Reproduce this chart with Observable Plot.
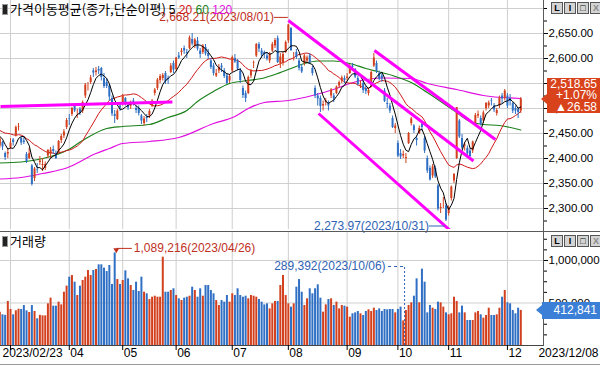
<!DOCTYPE html>
<html><head><meta charset="utf-8">
<script src="https://cdn.jsdelivr.net/npm/d3@7"></script>
<script src="https://cdn.jsdelivr.net/npm/@observablehq/plot@0.6"></script>
<style>
body{margin:0;background:#fff;}
#wrap{position:relative;width:600px;height:366px;overflow:hidden;background:#fff;font-family:"Liberation Sans","Noto Sans CJK KR",sans-serif;font-size:12px;}
#wrap svg{position:absolute;left:0;overflow:visible;}
.ln{position:absolute;background:#5a5a5a;}
.title{position:absolute;left:2px;font-size:13px;line-height:19px;white-space:nowrap;color:#000;font-family:"Noto Sans CJK KR","Liberation Sans",sans-serif;}
.icon{display:inline-block;width:4px;height:9px;background:#222;border:1px solid #999;margin-right:2px;vertical-align:-1px;}
.btns{position:absolute;left:551px;display:flex;gap:1px;}
.btn{width:10px;height:10px;border:1px solid #555;background:#d4d4d4;font:bold 9px/10px "Liberation Sans",sans-serif;text-align:center;color:#000;}
.box{position:absolute;color:#fff;text-align:right;font-size:12px;padding-right:3px;box-sizing:border-box;}
.box::before{content:"";position:absolute;left:-6px;border-top:5px solid transparent;border-bottom:5px solid transparent;}
</style></head>
<body><div id="wrap"></div>
<script>
// ---- data ----
const dates = ["02/23","02/24","02/27","02/28",
"03/02","03/03","03/06","03/07","03/08","03/09","03/10","03/13","03/14","03/15","03/16","03/17","03/20","03/21","03/22","03/23","03/24","03/27","03/28","03/29","03/30","03/31",
"04/03","04/04","04/05","04/06","04/07","04/10","04/11","04/12","04/13","04/14","04/17","04/18","04/19","04/20","04/21","04/24","04/25","04/26","04/27","04/28",
"05/02","05/03","05/04","05/08","05/09","05/10","05/11","05/12","05/15","05/16","05/17","05/18","05/19","05/22","05/23","05/24","05/25","05/26","05/30","05/31",
"06/01","06/02","06/05","06/07","06/08","06/09","06/12","06/13","06/14","06/15","06/16","06/19","06/20","06/21","06/22","06/23","06/26","06/27","06/28","06/29","06/30",
"07/03","07/04","07/05","07/06","07/07","07/10","07/11","07/12","07/13","07/14","07/17","07/18","07/19","07/20","07/21","07/24","07/25","07/26","07/27","07/28","07/31",
"08/01","08/02","08/03","08/04","08/07","08/08","08/09","08/10","08/11","08/14","08/16","08/17","08/18","08/21","08/22","08/23","08/24","08/25","08/28","08/29","08/30","08/31",
"09/01","09/04","09/05","09/06","09/07","09/08","09/11","09/12","09/13","09/14","09/15","09/18","09/19","09/20","09/21","09/22","09/25","09/26","09/27",
"10/04","10/05","10/06","10/10","10/11","10/12","10/13","10/16","10/17","10/18","10/19","10/20","10/23","10/24","10/25","10/26","10/27","10/30","10/31",
"11/01","11/02","11/03","11/06","11/07","11/08","11/09","11/10","11/13","11/14","11/15","11/16","11/17","11/20","11/21","11/22","11/23","11/24","11/27","11/28","11/29","11/30",
"12/01","12/04","12/05","12/06","12/07","12/08"];
const open = [2425,2432,2410,2409,
2422,2437,2445,2462,2440,2435,2408,2400,2385,2360,2378,2392,2386,2380,2405,2408,2418,2410,2412,2436,2445,2462,
2480,2488,2505,2490,2498,2494,2525,2548,2552,2575,2572,2578,2580,2560,2552,2545,2520,2488,2478,2505,
2510,2520,2505,2505,2515,2500,2500,2485,2470,2482,2485,2505,2530,2540,2556,2560,2570,2560,2572,2590,
2578,2605,2612,2620,2612,2620,2638,2625,2635,2615,2612,2622,2610,2595,2585,2565,2575,2585,2575,2565,2555,
2575,2600,2595,2575,2540,2530,2530,2565,2590,2605,2628,2615,2612,2605,2595,2615,2625,2640,2590,2590,2612,
2635,2660,2605,2612,2595,2582,2590,2595,2605,2580,2540,2525,2520,2505,2512,2510,2525,2525,2530,2545,2555,2560,
2560,2570,2585,2578,2560,2545,2550,2540,2530,2545,2585,2590,2570,2565,2535,2510,2505,2480,2460,
2430,2410,2405,2400,2430,2470,2465,2440,2450,2468,2440,2400,2380,2365,2380,2345,2300,2310,2305,
2290,2320,2355,2400,2475,2440,2425,2420,2415,2415,2470,2485,2480,2475,2500,2505,2515,2505,2490,2505,2525,2520,
2525,2520,2510,2500,2498,2495];
const high = [2442,2434,2413,2420,
2440,2440,2465,2470,2443,2443,2412,2420,2388,2382,2390,2404,2400,2393,2418,2422,2425,2415,2436,2448,2458,2480,
2488,2502,2510,2498,2502,2515,2550,2552,2566,2580,2582,2584,2582,2570,2560,2548,2525,2496,2498,2508,
2528,2522,2512,2515,2520,2505,2505,2488,2484,2488,2498,2518,2540,2560,2568,2570,2574,2565,2590,2595,
2602,2612,2620,2625,2618,2645,2650,2640,2642,2620,2628,2628,2618,2600,2590,2578,2588,2590,2580,2570,2568,
2605,2608,2598,2580,2545,2535,2565,2578,2595,2630,2632,2620,2615,2612,2612,2632,2640,2645,2610,2612,2635,
2668.21,2662,2612,2618,2600,2588,2608,2605,2610,2585,2545,2530,2525,2515,2520,2515,2540,2530,2545,2555,2565,2565,
2570,2588,2590,2580,2565,2555,2555,2545,2540,2575,2610,2595,2575,2570,2540,2520,2510,2485,2470,
2435,2418,2415,2410,2452,2482,2468,2445,2465,2472,2445,2405,2385,2388,2385,2348,2310,2322,2310,
2305,2345,2370,2502,2478,2448,2432,2425,2420,2435,2490,2495,2485,2495,2512,2515,2520,2510,2500,2525,2530,2538,
2530,2528,2512,2505,2502,2522];
const low = [2420,2416,2396,2400,
2418,2425,2443,2455,2426,2428,2390,2398,2345,2354,2370,2386,2374,2376,2400,2400,2408,2398,2410,2430,2440,2458,
2466,2484,2492,2480,2486,2490,2520,2535,2548,2562,2565,2568,2555,2540,2540,2515,2484,2470,2476,2494,
2505,2505,2496,2498,2505,2490,2485,2468,2465,2472,2480,2502,2525,2536,2550,2555,2548,2548,2570,2570,
2575,2598,2605,2608,2600,2618,2625,2620,2615,2600,2608,2605,2598,2578,2565,2562,2570,2572,2560,2548,2550,
2572,2590,2575,2550,2520,2512,2528,2560,2580,2602,2612,2600,2600,2595,2590,2612,2620,2590,2580,2585,2610,
2630,2614,2595,2598,2575,2570,2585,2590,2588,2565,2520,2505,2492,2495,2505,2495,2520,2512,2528,2540,2550,2550,
2555,2568,2575,2560,2545,2540,2530,2528,2525,2542,2582,2570,2555,2552,2512,2500,2490,2460,2450,
2402,2398,2400,2390,2428,2465,2450,2425,2448,2455,2410,2370,2355,2360,2360,2295,2290,2300,2273.97,
2285,2315,2350,2398,2440,2418,2415,2405,2400,2410,2468,2480,2465,2470,2495,2500,2505,2492,2485,2500,2510,2515,
2500,2505,2490,2488,2480,2490];
const close = [2439,2423,2402,2412,
2431,2432,2462,2463,2431,2432,2394,2410,2348,2379,2377,2395,2388,2388,2416,2417,2414,2400,2434,2444,2453,2476,
2479,2500,2495,2490,2490,2512,2547,2548,2561,2571,2575,2575,2562,2544,2544,2523,2489,2484,2495,2501,
2524,2510,2501,2509,2510,2496,2490,2475,2479,2480,2494,2515,2537,2557,2564,2566,2554,2558,2585,2577,
2601,2601,2615,2615,2610,2641,2629,2637,2619,2608,2625,2609,2604,2582,2570,2570,2582,2581,2564,2550,2564,
2602,2593,2579,2556,2526,2520,2562,2574,2591,2628,2619,2607,2608,2599,2609,2628,2636,2592,2603,2608,2632,
2667,2616,2605,2602,2580,2573,2605,2601,2591,2570,2525,2519,2504,2508,2515,2505,2537,2519,2543,2552,2561,2556,
2563,2584,2582,2563,2548,2547,2536,2534,2536,2572,2601,2574,2559,2559,2514,2508,2495,2462,2465,
2405,2403,2408,2402,2450,2479,2456,2436,2460,2462,2415,2375,2357,2383,2363,2299,2302,2310,2277,
2301,2343,2368,2502,2443,2421,2427,2409,2404,2433,2486,2488,2469,2491,2510,2511,2514,2497,2496,2521,2519,2535,
2505,2514,2495,2495,2492.07,2518.65];
const volume = [392000,361000,355000,518000,
424000,361000,408000,427000,424000,470000,408000,388000,470000,400000,314000,355000,349000,349000,490000,557000,463000,463000,510000,478000,627000,698000,
804000,823000,745000,588000,698000,765000,804000,882000,823000,882000,894000,949000,949000,910000,870000,941000,718000,1089216,776000,718000,
765000,878000,784000,706000,647000,745000,635000,804000,627000,608000,541000,568000,580000,568000,568000,1039000,627000,627000,647000,667000,
588000,549000,529000,557000,568000,580000,686000,647000,568000,667000,580000,706000,706000,647000,608000,529000,471000,529000,510000,588000,510000,
608000,588000,667000,588000,568000,580000,549000,588000,580000,568000,541000,510000,478000,490000,431000,490000,518000,518000,706000,824000,588000,
490000,451000,490000,686000,776000,627000,471000,549000,667000,608000,667000,714000,557000,392000,478000,541000,549000,471000,510000,431000,471000,463000,
451000,333000,373000,384000,400000,373000,353000,400000,420000,400000,439000,412000,431000,400000,424000,420000,424000,424000,384000,
424000,451000,289392,412000,471000,502000,580000,784000,502000,898000,745000,384000,471000,439000,424000,510000,502000,451000,384000,
361000,373000,568000,518000,384000,463000,384000,294000,294000,294000,384000,400000,361000,322000,353000,439000,353000,353000,361000,439000,568000,647000,
502000,490000,412000,373000,439000,412841];
// closes of the 19 sessions before the first visible day (feed the 5/20-day averages)
const preClose = [2484,2450,2425,2449,2468,2480,2438,2451,2483,2482,2470,2453,2465,2428,2476,2451,2455,2459,2418];
// 60- and 120-day averages
const ma60Idx = [0,8,19,25,31,40,46,56,63,70,74,80,86,93,98,103,109,114,119,125,131,137,147,154,160,171,176,181,187,195];
const ma60Val = [2391,2393,2404,2416,2436,2460,2464,2468,2482,2496,2514,2534,2550,2556,2560,2568,2580,2590,2595,2595,2590,2580,2566,2552,2532,2492,2474,2468,2466,2457];
const ma120Idx = [0,8,16,25,36,41,46,56,67,80,88,93,99,108,117,126,131,144,154,160,171,181,195];
const ma120Val = [2359,2362,2370,2381,2410,2420,2430,2434,2442,2470,2484,2500,2512,2516,2526,2540,2550,2561,2560,2550,2538,2526,2520];
// drawn trend lines (day index / price)
const trendI1 = [0.26, 108.0, 140.2, 119.3];
const trendP1 = [2504, 2676, 2616, 2490];
const trendI2 = [64.6, 177.3, 185.5, 169.0];
const trendP2 = [2513, 2395, 2438, 2254];
// labels
const priceTicks = [2300,2350,2400,2450,2500,2550,2600,2650,2700];
const priceLabelTicks = [2300,2350,2400,2450,2500,2550,2600,2650];
const volTicks = [500000, 1000000];
const monthTickLabels = ["","04","05","06","07","08","09","10","11","12"];
const firstDateLabel = "2023/02/23", lastDateLabel = "2023/12/08";
const hiIdx = 108, hiVal = 2668.21, hiLabel = "2,668.21(2023/08/01)";
const loIdx = 167, loVal = 2273.97, loLabel = "2,273.97(2023/10/31)";
const vMaxIdx = 43, vMaxVal = 1089216, vMaxLabel = "1,089,216(2023/04/26)";
const vMarkIdx = 151, vMarkVal = 289392, vMarkLabel = "289,392(2023/10/06)";
const lastChange = 26.58, lastPct = 1.07;

// ---- drawing ----
const UP = "#d2401e", DOWN = "#2f6fc4", GRID = "#cfcfcf";
const MA5C = "#000000", MA20C = "#d01818", MA60C = "#1a801a", MA120C = "#e010e0", TREND = "#ff00ff";
const HIC = "#c0301e", LOC = "#2f62b4";
const XD = [0.26, 203.5];
const VMAX = 1341000, VH = 114;
const rows = close.map((c, i) => ({i, o: open[i], h: high[i], l: low[i], c, v: volume[i], col: c >= open[i] ? UP : DOWN}));
const closeAll = preClose.map((c, k) => ({i: k - preClose.length, c})).concat(rows.map(r => ({i: r.i, c: r.c})));
const monthIdx = rows.filter((r, i) => i > 0 && dates[i].slice(0, 2) !== dates[i - 1].slice(0, 2)).map(r => r.i);
const ma60 = ma60Idx.map((i, k) => ({i, v: ma60Val[k]}));
const ma120 = ma120Idx.map((i, k) => ({i, v: ma120Val[k]}));
const trends = trendI1.map((d, k) => ({x1: d, y1: trendP1[k], x2: trendI2[k], y2: trendP2[k]}));
const fmt2 = d3.format(",.2f"), fmt0 = d3.format(",");
const FONT = '"Liberation Sans","Noto Sans CJK KR",sans-serif';
const style = {fontFamily: FONT, fontSize: "12px", color: "#000", background: "transparent", overflow: "visible"};
// label row of the 2023/10/06 marker sits 54px above its bar top
const vMarkLabelY = vMarkVal + 54.4 * VMAX / VH;

const pricePlot = Plot.plot({
  width: 600, height: 230, marginLeft: 0, marginRight: 57, marginTop: 0, marginBottom: 1,
  x: {domain: XD, axis: null, label: null},
  y: {domain: [2258, 2716], axis: null, label: null},
  color: {type: "identity"},
  style,
  marks: [
    Plot.ruleY(priceTicks, {stroke: GRID}),
    Plot.ruleX(monthIdx, {stroke: GRID}),
    Plot.line(ma120, {x: "i", y: "v", stroke: MA120C, strokeWidth: 1.2, curve: "monotone-x", clip: true}),
    Plot.line(ma60, {x: "i", y: "v", stroke: MA60C, strokeWidth: 1.2, curve: "monotone-x", clip: true}),
    Plot.line(closeAll, Plot.windowY({k: 20, anchor: "end", strict: true}, {x: "i", y: "c", stroke: MA20C, strokeWidth: 1, clip: true})),
    Plot.ruleX(rows, {x: "i", y1: "l", y2: "h", stroke: "col", strokeWidth: 1, clip: true}),
    Plot.ruleX(rows, {x: "i", y1: "o", y2: "c", stroke: "col", strokeWidth: 2, clip: true}),
    Plot.line(closeAll, Plot.windowY({k: 5, anchor: "end", strict: true}, {x: "i", y: "c", stroke: MA5C, strokeWidth: 1, clip: true})),
    Plot.link(trends, {x1: "x1", y1: "y1", x2: "x2", y2: "y2", stroke: TREND, strokeWidth: 3, clip: true}),
    Plot.ruleY([hiVal], {x1: hiIdx - 5.2, x2: hiIdx, dy: -7, stroke: HIC}),
    Plot.text([hiLabel], {x: hiIdx - 5.4, y: hiVal, text: d => d, dy: -7, textAnchor: "end", fill: HIC}),
    Plot.ruleY([loVal], {x1: loIdx - 6.2, x2: loIdx - 0.3, dy: 4.5, stroke: LOC}),
    Plot.text([loLabel], {x: loIdx - 6.4, y: loVal, text: d => d, dy: 4.5, textAnchor: "end", fill: LOC}),
    Plot.axisY({anchor: "right", ticks: priceLabelTicks, tickSize: 4, tickPadding: 1, tickFormat: fmt2, label: null, fontSize: 11.5}),
    Plot.axisY({anchor: "right", ticks: d3.range(2275, 2716, 25), tickSize: 3, tickFormat: () => "", label: null})
  ]
});

const volPlot = Plot.plot({
  width: 600, height: 135, marginLeft: 0, marginRight: 57, marginTop: 0, marginBottom: 21,
  x: {domain: XD, axis: null, label: null},
  y: {domain: [0, VMAX], axis: null, label: null},
  color: {type: "identity"},
  style,
  marks: [
    Plot.ruleY(volTicks, {stroke: GRID}),
    Plot.ruleX(monthIdx, {stroke: GRID}),
    Plot.ruleX(rows, {x: "i", y1: 0, y2: "v", stroke: "col", strokeWidth: 2, clip: true}),
    Plot.ruleY([0], {stroke: "#444"}),
    Plot.ruleY([vMaxVal], {x1: vMaxIdx + 0.8, x2: vMaxIdx + 6.6, dy: -4.5, stroke: HIC}),
    Plot.dot([vMaxVal], {x: vMaxIdx + 0.6, y: d => d, symbol: "triangle", r: 2.2, rotate: 180, fill: HIC, dy: -3}),
    Plot.text([vMaxLabel], {x: vMaxIdx + 6.8, y: vMaxVal, text: d => d, dy: -4.5, dx: 1, textAnchor: "start", fill: HIC}),
    Plot.ruleY([vMarkLabelY], {x1: vMarkIdx - 5.5, x2: vMarkIdx + 0.5, stroke: LOC, strokeDasharray: "3,3"}),
    Plot.ruleX([vMarkIdx + 0.5], {y1: 0, y2: vMarkLabelY, stroke: LOC, strokeDasharray: "2,2"}),
    Plot.text([vMarkLabel], {x: vMarkIdx - 6.6, y: vMarkLabelY, text: d => d, textAnchor: "end", fill: LOC}),
    Plot.axisY({anchor: "right", ticks: volTicks, tickSize: 4, tickPadding: 1, tickFormat: fmt0, label: null, fontSize: 11.5}),
    Plot.axisY({anchor: "right", ticks: d3.range(125000, 1300000, 125000), tickSize: 3, tickFormat: () => "", label: null}),
    Plot.axisX({anchor: "bottom", ticks: monthIdx, tickSize: 5, tickFormat: () => "", label: null}),
    Plot.text(monthIdx, {x: d => d, text: (d, k) => monthTickLabels[k], frameAnchor: "bottom", dy: 11, dx: 1, textAnchor: "start"}),
    Plot.text([firstDateLabel], {text: d => d, frameAnchor: "bottom-left", dy: 11, dx: 2, textAnchor: "start"}),
    Plot.text([lastDateLabel], {text: d => d, frameAnchor: "bottom-right", dy: 11, dx: 55, textAnchor: "end"})
  ]
});

const wrap = document.getElementById("wrap");
pricePlot.style.top = "0px";
volPlot.style.top = "231px";
wrap.appendChild(pricePlot);
wrap.appendChild(volPlot);

function add(html) { wrap.insertAdjacentHTML("beforeend", html); }
// panel frame lines
add('<div class="ln" style="left:0;top:231px;width:600px;height:1px"></div>');
add('<div class="ln" style="left:543px;top:0;width:1px;height:346px"></div>');
add('<div class="ln" style="left:0;top:364px;width:600px;height:1px;background:#999"></div>');
// titles
add('<div class="title" style="top:-1px"><span class="icon"></span>가격이동평균(종가,단순이평) <span style="font-family:Liberation Sans;font-size:12px">5 <span style="color:' + MA20C + '">20</span> <span style="color:' + MA60C + '">60</span> <span style="color:' + MA120C + '">120</span></span></div>');
add('<div class="title" style="top:231px"><span class="icon"></span>거래량</div>');
// window buttons
const btns = '<div class="btn">L</div><div class="btn">I</div><div class="btn">□</div><div class="btn" style="color:#888">X</div>';
add('<div class="btns" style="top:2px">' + btns + '</div>');
add('<div class="btns" style="top:235px">' + btns + '</div>');
// last value boxes
const yClose = pricePlot.scale("y").apply(close[close.length - 1]);
const yVol = 231 + volPlot.scale("y").apply(volume[volume.length - 1]);
add('<div class="box" id="pb" style="left:547px;top:' + (yClose - 21) + 'px;width:53px;height:35px;background:#d9431c;line-height:11.5px;padding-top:1px">'
  + fmt2(close[close.length - 1]) + '<br>+' + lastPct.toFixed(2) + '%<br>▲' + lastChange.toFixed(2) + '</div>');
add('<div class="box" id="vb" style="left:542px;top:' + (yVol - 8) + 'px;width:58px;height:17px;background:#3b7fd6;line-height:17px">' + fmt0(volume[volume.length - 1]) + '</div>');
const st = document.createElement("style");
st.textContent = '#pb::before{top:16px;border-right:6px solid #d9431c;} #vb::before{top:3px;border-right:6px solid #3b7fd6;}';
document.head.appendChild(st);
</script></body></html>
